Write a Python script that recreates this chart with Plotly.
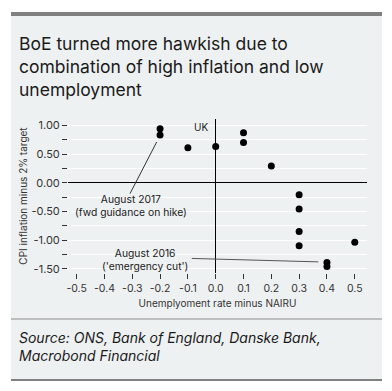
import plotly.graph_objects as go

# Data
unemp_gap = [-0.2, -0.2, -0.1, 0.0, 0.1, 0.1, 0.2, 0.3, 0.3, 0.3, 0.3, 0.4, 0.4, 0.5]
cpi_gap = [0.94, 0.83, 0.61, 0.63, 0.87, 0.70, 0.29, -0.21, -0.46, -0.85, -1.10, -1.39, -1.46, -1.04]
x_ticks = [-0.5, -0.4, -0.3, -0.2, -0.1, 0.0, 0.1, 0.2, 0.3, 0.4, 0.5]
y_ticks = [-1.5, -1.0, -0.5, 0.0, 0.5, 1.0]
x_ticklabels = [f"{v:.1f}" for v in x_ticks]
y_ticklabels = [f"{v:.2f}" for v in y_ticks]

W, H = 392, 391
L, R, T, B = 68, 25, 119, 118
PW, PH = W - L - R, H - T - B

def px(x):
    return (x - L) / PW

def py(y):
    return (H - B - y) / PH

BG = "#eef1f2"
FONT = "Inter"
TXT = "#1a1a1a"
AX = "#333333"

fig = go.Figure()
fig.add_trace(go.Scatter(
    x=unemp_gap, y=cpi_gap, mode="markers",
    marker=dict(color="black", size=7),
    showlegend=False, hoverinfo="x+y",
))

shapes = [
    dict(type="rect", xref="paper", yref="paper", x0=px(11), x1=px(382), y0=py(379), y1=py(16),
         fillcolor=BG, line=dict(width=0), layer="below"),
    dict(type="rect", xref="paper", yref="paper", x0=px(11), x1=px(382), y0=py(16), y1=py(12),
         fillcolor="#808080", line=dict(width=0)),
    dict(type="line", xref="paper", yref="paper", x0=px(11), x1=px(382), y0=py(319), y1=py(319),
         line=dict(color="#8c8c8c", width=1)),
    dict(type="rect", xref="paper", yref="paper", x0=px(11), x1=px(382), y0=py(381), y1=py(379),
         fillcolor="#808080", line=dict(width=0)),
    dict(type="line", xref="x", yref="y", x0=-0.308, y0=-0.19, x1=-0.212, y1=0.71,
         line=dict(color="#333333", width=1)),
    dict(type="line", xref="x", yref="y", x0=-0.086, y0=-1.32, x1=0.369, y1=-1.38,
         line=dict(color="#555555", width=1)),
]

annotations = [
    dict(xref="paper", yref="paper", x=px(17), y=py(31), xanchor="left", yanchor="top",
         text="BoE turned more hawkish due to<br>combination of high inflation and low<br>unemployment",
         showarrow=False, align="left", font=dict(family=FONT, size=17.5, color=TXT)),
    dict(xref="paper", yref="paper", x=px(17), y=py(327), xanchor="left", yanchor="top",
         text="<i>Source: ONS, Bank of England, Danske Bank,<br>Macrobond Financial</i>",
         showarrow=False, align="left", font=dict(family=FONT, size=14, color=TXT)),
    dict(xref="x", yref="y", x=-0.02, y=0.97, xanchor="right", yanchor="middle",
         text="UK", showarrow=False, font=dict(family=FONT, size=10, color=TXT)),
    dict(xref="x", yref="y", x=-0.305, y=-0.405, xanchor="center", yanchor="middle",
         text="August 2017<br>(fwd guidance on hike)", showarrow=False,
         font=dict(family=FONT, size=10.3, color=TXT)),
    dict(xref="x", yref="y", x=-0.254, y=-1.33, xanchor="center", yanchor="middle",
         text="August 2016<br>('emergency cut')", showarrow=False,
         font=dict(family=FONT, size=10.3, color=TXT)),
]

fig.update_layout(
    width=W, height=H,
    margin=dict(l=L, r=R, t=T, b=B),
    paper_bgcolor="white", plot_bgcolor=BG,
    shapes=shapes, annotations=annotations,
    font=dict(family=FONT, size=10, color=AX),
    xaxis=dict(
        range=[-0.531, 0.544], tickvals=x_ticks, ticktext=x_ticklabels,
        showgrid=False, zeroline=True, zerolinecolor="black", zerolinewidth=1,
        showline=False, ticks="outside", ticklen=5, tickcolor=AX,
        tickfont=dict(family=FONT, size=10.5, color=AX),
        title=dict(text="Unemplyoment rate minus NAIRU", standoff=6,
                   font=dict(family=FONT, size=10, color=AX)),
    ),
    yaxis=dict(
        range=[-1.574, 1.11], tickvals=y_ticks, ticktext=y_ticklabels,
        showgrid=True, gridcolor="white", gridwidth=1,
        zeroline=True, zerolinecolor="black", zerolinewidth=1,
        showline=False, ticks="outside", ticklen=5, tickcolor=AX,
        minor=dict(dtick=0.25, tick0=0, ticks="outside", ticklen=5, tickcolor=AX,
                   showgrid=True, gridcolor="white", gridwidth=1),
        tickfont=dict(family=FONT, size=11, color=AX),
        title=dict(text="CPI inflation minus 2% target", standoff=1,
                   font=dict(family=FONT, size=10, color=AX)),
    ),
)

fig.write_html("out.html", config={"displayModeBar": False},
               post_script="document.body.style.margin='0';")
